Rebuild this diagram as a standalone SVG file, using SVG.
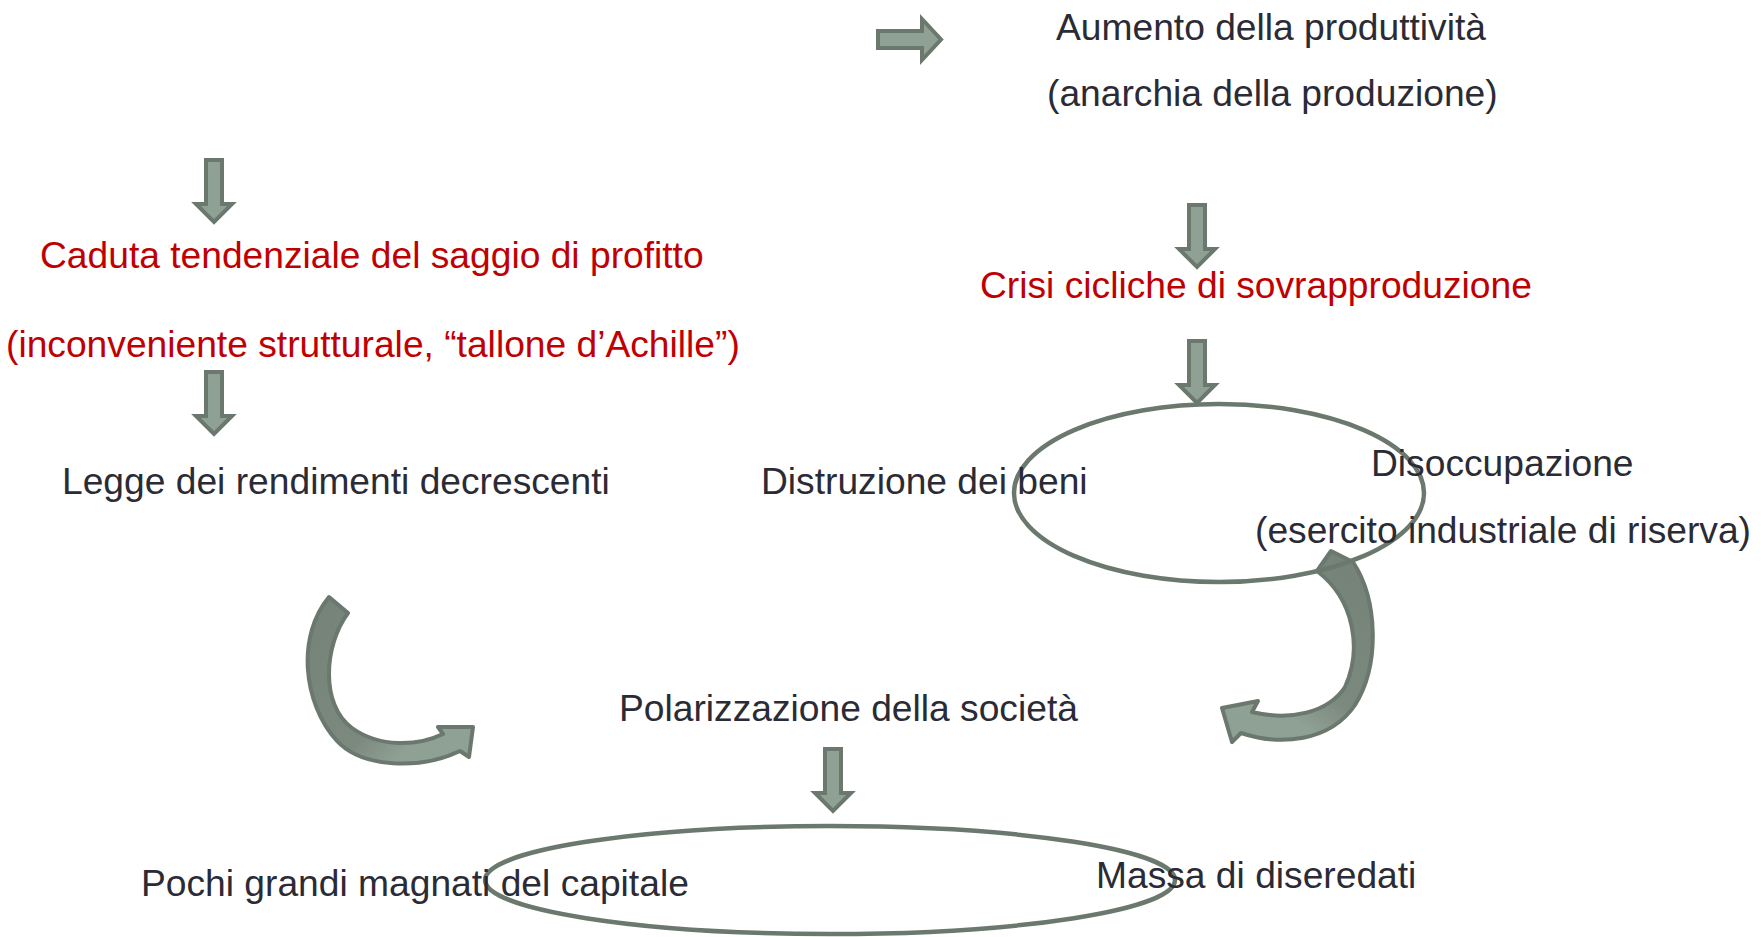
<svg xmlns="http://www.w3.org/2000/svg" width="1761" height="937" viewBox="0 0 1761 937">
<style>
text{font-family:"Liberation Sans",Arial,sans-serif;font-size:37.2px;fill:#2b2b36}
text.red{fill:#c00000}
.arr{fill:#8fa094;stroke:#6b786e;stroke-width:4;stroke-linejoin:miter}
.ell{fill:none;stroke:#6b786e;stroke-width:4.5}
.curve{stroke:#6b786e;stroke-width:4;stroke-linejoin:round}
</style>
<defs>
<path id="down" class="arr" d="M-8,2 H8 V46 H18 L0,64 L-18,46 H-8 Z"/>
<linearGradient id="gL" x1="320" y1="600" x2="470" y2="745" gradientUnits="userSpaceOnUse">
<stop offset="0" stop-color="#768378"/><stop offset="0.6" stop-color="#7c897f"/><stop offset="0.8" stop-color="#8fa094"/><stop offset="1" stop-color="#8fa094"/>
</linearGradient>
<linearGradient id="gR" x1="1340" y1="560" x2="1230" y2="725" gradientUnits="userSpaceOnUse">
<stop offset="0" stop-color="#768378"/><stop offset="0.6" stop-color="#7c897f"/><stop offset="0.8" stop-color="#8fa094"/><stop offset="1" stop-color="#8fa094"/>
</linearGradient>
</defs>

<g id="connectors">
<polygon id="arrow-right" class="arr" points="878,31 922,31 922,19 941,39.5 922,60 922,48 878,48"/>
<use href="#down" transform="translate(214,158)"/>
<use href="#down" transform="translate(214,370)"/>
<use href="#down" transform="translate(1197,203)"/>
<use href="#down" transform="translate(1197,339)"/>
<use href="#down" transform="translate(833,747)"/>
<path id="curve-left" class="curve" fill="url(#gL)" d="M329,597 L348,613 C324,645 320,705 352,728 C380,748 418,746 443,734 L438,727 L473,727 L469,757 L460,751 C420,770 362,768 337,741 C302,702 297,635 329,597 Z"/>
<path id="curve-right" class="curve" fill="url(#gR)" d="M1317,571 L1331,551 L1353,562 C1378,600 1380,665 1355,705 C1330,742 1280,746 1241,733 L1232,742 L1222,708 L1258,701 L1252,712 C1290,721 1328,713 1345,687 C1362,650 1355,600 1317,571 Z"/>
</g>

<g id="node-aumento">
<text x="1056" y="40">Aumento della produttività</text>
<text x="1047" y="106">(anarchia della produzione)</text>
</g>
<g id="node-caduta">
<text class="red" x="40" y="268">Caduta tendenziale del saggio di profitto</text>
<text class="red" x="6" y="357">(inconveniente strutturale, “tallone d’Achille”)</text>
</g>
<g id="node-legge">
<text x="62" y="494">Legge dei rendimenti decrescenti</text>
</g>
<g id="node-crisi">
<text class="red" x="980" y="298">Crisi cicliche di sovrapproduzione</text>
</g>
<g id="node-ellipse-crisi">
<ellipse class="ell" cx="1219" cy="493" rx="205" ry="89"/>
</g>
<g id="node-distruzione">
<text x="761" y="494">Distruzione dei beni</text>
</g>
<g id="node-disoccupazione">
<text x="1371" y="476">Disoccupazione</text>
<text x="1255" y="543">(esercito industriale di riserva)</text>
</g>
<g id="node-polarizzazione">
<text x="619" y="721">Polarizzazione della società</text>
</g>
<g id="node-ellipse-polar">
<ellipse class="ell" cx="830" cy="880" rx="345" ry="54"/>
</g>
<g id="node-pochi">
<text x="141" y="896">Pochi grandi magnati del capitale</text>
</g>
<g id="node-massa">
<text x="1096" y="888">Massa di diseredati</text>
</g>
</svg>
